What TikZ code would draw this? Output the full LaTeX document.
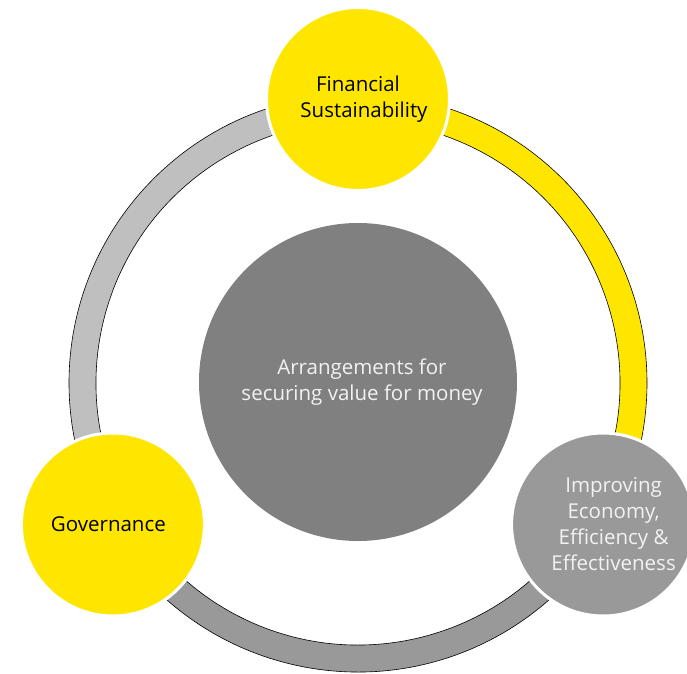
\documentclass[tikz,border=0pt]{standalone}
\usepackage{fontspec}
\setmainfont{Open Sans}
\usepackage{xcolor}
\definecolor{eyyellow}{HTML}{FFE600}
\definecolor{ringgrey}{HTML}{BFBFBF}
\definecolor{midgrey}{HTML}{999999}
\definecolor{coregrey}{HTML}{808080}
\definecolor{paletext}{HTML}{F2F2F2}
\usetikzlibrary{calc}

\begin{document}
\begin{tikzpicture}[x=1pt, y=1pt,
    band/.style={draw=black, line width=0.6pt},
    bubble/.style={circle, draw=white, line width=3pt, inner sep=0pt, minimum size=183pt, align=center,
      font=\fontsize{20.5}{26}\selectfont},
    core/.style={circle, inner sep=0pt, minimum size=318pt, align=center,
      font=\fontsize{20.5}{26}\selectfont}]
      \useasboundingbox (-358, -290) rectangle (329, 383);

      % ring segments
      \draw[band, fill=eyyellow] (90:289) arc (90:-30:289) -- (-30:262) arc (-30:90:262) -- cycle;
      \draw[band, fill=ringgrey] (90:289) arc (90:210:289) -- (210:262) arc (210:90:262) -- cycle;
      \draw[band, fill=midgrey] (210:289) arc (210:330:289) -- (330:262) arc (330:210:262) -- cycle;

      \node[core, fill=coregrey, text=paletext] (value) at (0, 1) {\hspace*{8pt}Arrangements for\\\hspace*{8pt}securing value for money};
      \node[bubble, fill=eyyellow] (finance) at (90:284) {\hspace*{0pt}Financial\\\hspace*{12pt}Sustainability};
      \node[bubble, fill=eyyellow] (gov) at (210:283) {\hspace*{-9pt}Governance};
      \node[bubble, fill=midgrey, text=paletext] (eee) at (-30:283) {\hspace*{21pt}Improving\\\hspace*{21pt}Economy,\\\hspace*{21pt}Efficiency \&\\\hspace*{21pt}Effectiveness};
    \end{tikzpicture}
\end{document}
